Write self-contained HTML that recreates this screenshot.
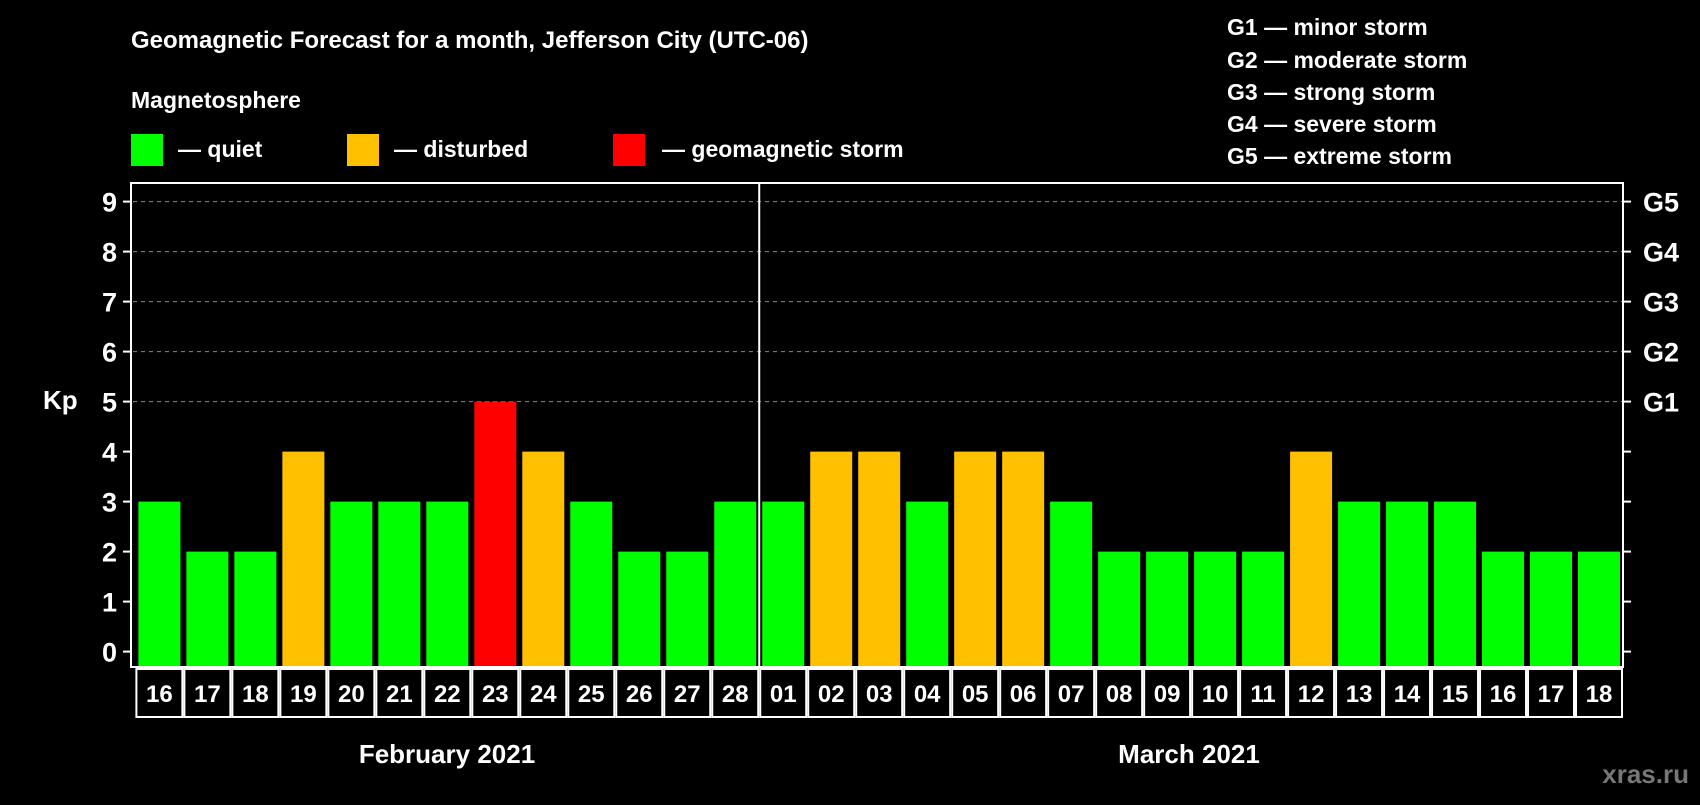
<!DOCTYPE html>
<html><head><meta charset="utf-8"><style>
body{margin:0;background:#000;width:1700px;height:800px;overflow:hidden}
svg text{font-family:"Liberation Sans",Arial,sans-serif;font-weight:bold;fill:#fff}
</style></head><body>
<svg id="c" width="1700" height="800">
<text x="131" y="48" font-size="24">Geomagnetic Forecast for a month, Jefferson City (UTC-06)</text>
<text x="131" y="108" font-size="23">Magnetosphere</text>
<rect x="131" y="134" width="32" height="32" fill="#00ff00"/>
<text x="178" y="157" font-size="23">— quiet</text>
<rect x="347" y="134" width="32" height="32" fill="#ffc000"/>
<text x="394" y="157" font-size="23">— disturbed</text>
<rect x="613" y="134" width="32" height="32" fill="#ff0000"/>
<text x="662" y="157" font-size="23">— geomagnetic storm</text>
<g font-size="23">
<text x="1227" y="35">G1 — minor storm</text>
<text x="1227" y="68">G2 — moderate storm</text>
<text x="1227" y="100">G3 — strong storm</text>
<text x="1227" y="132">G4 — severe storm</text>
<text x="1227" y="164">G5 — extreme storm</text>
</g>
<text x="43" y="409" font-size="26">Kp</text>
<text x="447" y="763" font-size="26" text-anchor="middle">February 2021</text>
<text x="1189" y="763" font-size="26" text-anchor="middle">March 2021</text>
<text x="1689" y="783" font-size="26" text-anchor="end" style="fill:#777">xras.ru</text>
<g id="plot"></g>
</svg>
<script>
const days=["16","17","18","19","20","21","22","23","24","25","26","27","28","01","02","03","04","05","06","07","08","09","10","11","12","13","14","15","16","17","18"];
const kp=[3,2,2,4,3,3,3,5,4,3,2,2,3,3,4,4,3,4,4,3,2,2,2,2,4,3,3,3,2,2,2];
const yTicks=[0,1,2,3,4,5,6,7,8,9];
const gLabels=["G1","G2","G3","G4","G5"];
const gLevels=[5,6,7,8,9];
const splitIndex=13;
const NS="http://www.w3.org/2000/svg";
const g=document.getElementById('plot');
const L=131,R=1623,T=183,B=667,x0=135.4,step=(R-x0)/days.length;
const y=v=>651.6-v*50;
const xc=i=>x0+step*(i+0.5);
function mk(t,a){const e=document.createElementNS(NS,t);for(const k in a)e.setAttribute(k,a[k]);g.appendChild(e);return e;}
gLevels.forEach(v=>{const l=mk('line',{x1:L+2,x2:R,y1:y(v),y2:y(v),stroke:'#888','stroke-dasharray':'4,4','stroke-width':1});

});
yTicks.forEach(v=>{const t=mk('line',{x1:L-8,x2:L,y1:y(v),y2:y(v),stroke:'#fff','stroke-width':2});


const t2=mk('line',{x1:R,x2:R+8,y1:y(v),y2:y(v),stroke:'#fff','stroke-width':2});


const tx=mk('text',{x:L-14,y:y(v)+10,'font-size':27,'text-anchor':'end'});tx.textContent=v;

});
gLabels.forEach((s,i)=>{const tx=mk('text',{x:R+20,y:y(gLevels[i])+10,'font-size':27});tx.textContent=s;

});
kp.forEach((v,i)=>{const c=v>=5?'#ff0000':v>=4?'#ffc000':'#00ff00';
const r=mk('rect',{x:xc(i)-21,y:y(v),width:42,height:B-y(v)-1,fill:c});


const cell=mk('rect',{x:x0+step*i+1,y:669,width:step-2,height:48,fill:'none',stroke:'#fff','stroke-width':2});


const tx=mk('text',{x:xc(i),y:702,'font-size':24,'text-anchor':'middle'});tx.textContent=days[i];

});
const box=mk('rect',{x:L,y:T,width:R-L,height:B-T,fill:'none',stroke:'#fff','stroke-width':2});


const sx=x0+step*splitIndex;
const sp=mk('line',{x1:sx,x2:sx,y1:T,y2:B,stroke:'#fff','stroke-width':2});


</script>
</body></html>
